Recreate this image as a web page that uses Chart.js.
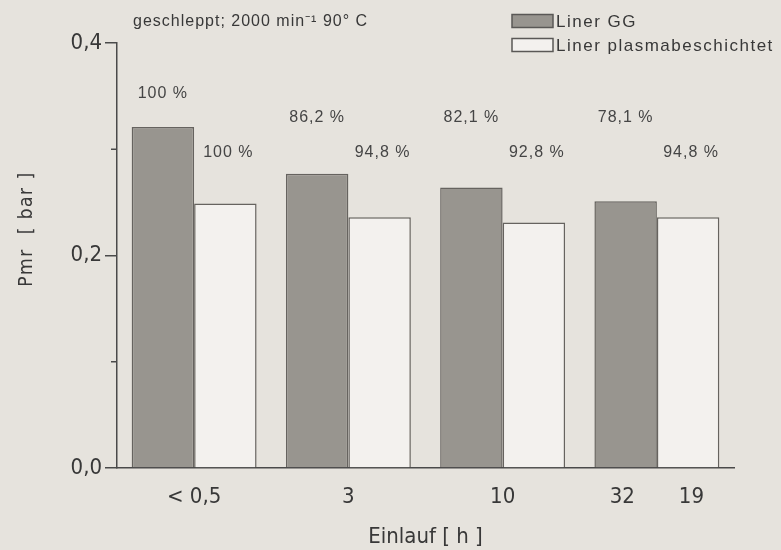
<!DOCTYPE html>
<html>
<head>
<meta charset="utf-8">
<script src="https://cdn.jsdelivr.net/npm/chart.js@4.4.1/dist/chart.umd.min.js"></script>
<style>
  html, body { margin: 0; padding: 0; background: #e6e3dd; }
  #wrap { width: 781px; height: 550px; position: relative; }
</style>
</head>
<body>
<div id="wrap"><canvas id="chart" width="781" height="550"></canvas></div>
<script>
// Data
const categories = ['< 0,5', '3', '10', '32       19'];
const linerGG = [0.321, 0.277, 0.264, 0.251];
const linerPlasma = [0.249, 0.236, 0.231, 0.236];
const pctGG = ['100 %', '86,2 %', '82,1 %', '78,1 %'];
const pctPlasma = ['100 %', '94,8 %', '92,8 %', '94,8 %'];
const yTicks = [0, 0.2, 0.4];
const yMinorTicks = [0.1, 0.3];

const FONT = '"Liberation Sans Narrow", "DejaVu Sans Condensed", "Arial Narrow", sans-serif';
const FONT_N = '"Liberation Sans", Arial, sans-serif';
const TEXT = '#383838';
const AXIS = '#4a4a4a';

function fmt(v) {
    return v.toFixed(1).replace('.', ',');
}

// heading, legend, percent labels, y title and minor ticks
const extras = {
    id: 'extras',
    afterDraw(chart) {
        const ctx = chart.ctx;
        const y = chart.scales.y;
        ctx.save();
        ctx.textBaseline = 'middle';

        // heading
        ctx.fillStyle = TEXT;
        ctx.font = '16px ' + FONT_N;
        ctx.letterSpacing = '1px';
        ctx.textAlign = 'left';
        ctx.fillText('geschleppt; 2000 min\u207B\u00B9 90° C', 133, 22);

        // legend, stacked
        ctx.font = '17px ' + FONT_N;
        ctx.letterSpacing = '1.5px';
        chart.data.datasets.forEach((ds, i) => {
            const cy = 21 + i * 24;
            ctx.fillStyle = ds.backgroundColor;
            ctx.fillRect(512, cy - 6.5, 41, 13);
            ctx.strokeStyle = '#5a5856';
            ctx.lineWidth = 1.5;
            ctx.strokeRect(512, cy - 6.5, 41, 13);
            ctx.fillStyle = TEXT;
            ctx.fillText(ds.label, 556, cy + 1);
        });

        // percent labels
        ctx.font = '16px ' + FONT_N;
        ctx.letterSpacing = '1px';
        ctx.textAlign = 'center';
        ctx.fillStyle = '#454545';
        const m0 = chart.getDatasetMeta(0);
        const m1 = chart.getDatasetMeta(1);
        pctGG.forEach((t, i) => {
            const lvl = i === 0 ? 0.352 : 0.3294;
            ctx.fillText(t, m0.data[i].x, y.getPixelForValue(lvl));
        });
        pctPlasma.forEach((t, i) => {
            ctx.fillText(t, m1.data[i].x + 3, y.getPixelForValue(0.2965));
        });

        // y axis title
        ctx.save();
        ctx.translate(27, 229);
        ctx.rotate(-Math.PI / 2);
        ctx.font = '19px ' + FONT;
        ctx.letterSpacing = '1.5px';
        ctx.fillStyle = TEXT;
        ctx.fillText('Pmr  [ bar ]', 0, 0);
        ctx.restore();

        // minor ticks on y axis
        ctx.strokeStyle = AXIS;
        ctx.lineWidth = 1.5;
        yMinorTicks.forEach(v => {
            const py = y.getPixelForValue(v);
            ctx.beginPath();
            ctx.moveTo(y.right - 6, py);
            ctx.lineTo(y.right, py);
            ctx.stroke();
        });
        ctx.restore();
    }
};

new Chart(document.getElementById('chart'), {
    type: 'bar',
    data: {
        labels: categories,
        datasets: [{
            label: 'Liner GG',
            data: linerGG,
            backgroundColor: '#98958f',
            borderColor: '#66635f',
            borderWidth: 1.5,
            categoryPercentage: 0.81,
            barPercentage: 1.0
        }, {
            label: 'Liner plasmabeschichtet',
            data: linerPlasma,
            backgroundColor: '#f3f1ee',
            borderColor: '#66635f',
            borderWidth: 1.5,
            categoryPercentage: 0.81,
            barPercentage: 1.0
        }]
    },
    options: {
        responsive: false,
        animation: false,
        layout: { padding: { top: 43, right: 47, bottom: 0, left: 0 } },
        plugins: {
            legend: { display: false },
            tooltip: { enabled: false }
        },
        scales: {
            x: {
                grid: { display: false },
                border: { color: AXIS, width: 1.5 },
                ticks: { color: TEXT, font: { family: FONT, size: 22 }, padding: 8 },
                title: {
                    display: true,
                    text: 'Einlauf [ h ]',
                    color: TEXT,
                    font: { family: FONT, size: 22 },
                    padding: { top: 2, bottom: 0 }
                },
                afterFit(scale) { scale.height = 82; }
            },
            y: {
                min: 0,
                max: 0.4,
                afterBuildTicks(scale) {
                    scale.ticks = yTicks.map(v => ({ value: v }));
                },
                grid: {
                    drawOnChartArea: false,
                    drawTicks: true,
                    tickLength: 12,
                    color: AXIS,
                    lineWidth: 1.5
                },
                border: { color: AXIS, width: 1.5 },
                ticks: {
                    color: TEXT,
                    font: { family: FONT, size: 22 },
                    padding: 3,
                    callback: v => fmt(v)
                },
                afterFit(scale) { scale.width = 117; }
            }
        }
    },
    plugins: [extras]
});
</script>
</body>
</html>
